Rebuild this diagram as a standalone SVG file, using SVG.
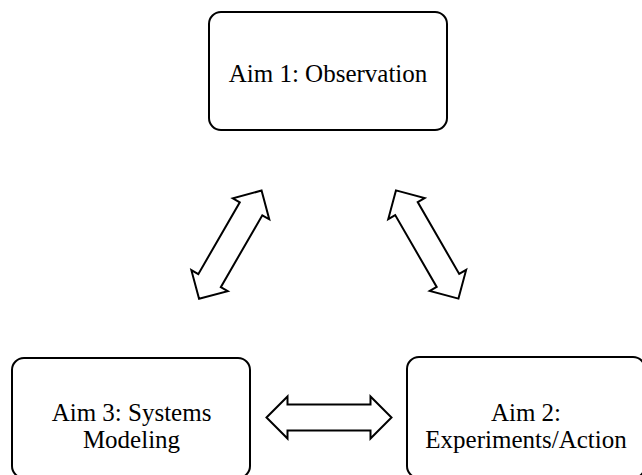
<svg xmlns="http://www.w3.org/2000/svg" width="642" height="475" viewBox="0 0 642 475">
  <defs>
    <style>
      .box { fill: #ffffff; stroke: #000000; stroke-width: 2; }
      .lbl { font-family: "Liberation Serif", "Times New Roman", serif; font-size: 25px; fill: #000000; text-anchor: middle; }
      .arrow { fill: #ffffff; stroke: #000000; stroke-width: 2; stroke-linejoin: miter; }
    </style>
    <path id="dblArrow" d="M -62.5 0 L -41.5 -21 L -41.5 -13 L 41.5 -13 L 41.5 -21 L 62.5 0 L 41.5 21 L 41.5 13 L -41.5 13 L -41.5 21 Z"/>
  </defs>
  <rect width="642" height="475" fill="#ffffff"/>
  <g id="node-aim1">
    <rect class="box" x="209" y="12" width="238" height="118" rx="12" ry="12"/>
    <text class="lbl" x="328" y="82">Aim 1: Observation</text>
  </g>
  <g id="node-aim3">
    <rect class="box" x="12" y="358" width="238" height="120" rx="12" ry="12"/>
    <text class="lbl" x="131.5" y="421">Aim 3: Systems</text>
    <text class="lbl" x="131.5" y="448">Modeling</text>
  </g>
  <g id="node-aim2">
    <rect class="box" x="407" y="357" width="238" height="121" rx="12" ry="12"/>
    <text class="lbl" x="526" y="421">Aim 2:</text>
    <text class="lbl" x="526" y="448">Experiments/Action</text>
  </g>
  <g id="connectors">
    <use href="#dblArrow" class="arrow" transform="translate(230.3 244.7) rotate(-60)"/>
    <use href="#dblArrow" class="arrow" transform="translate(427.2 244.5) rotate(60)"/>
    <use href="#dblArrow" class="arrow" transform="translate(329 417.5)"/>
  </g>
</svg>
